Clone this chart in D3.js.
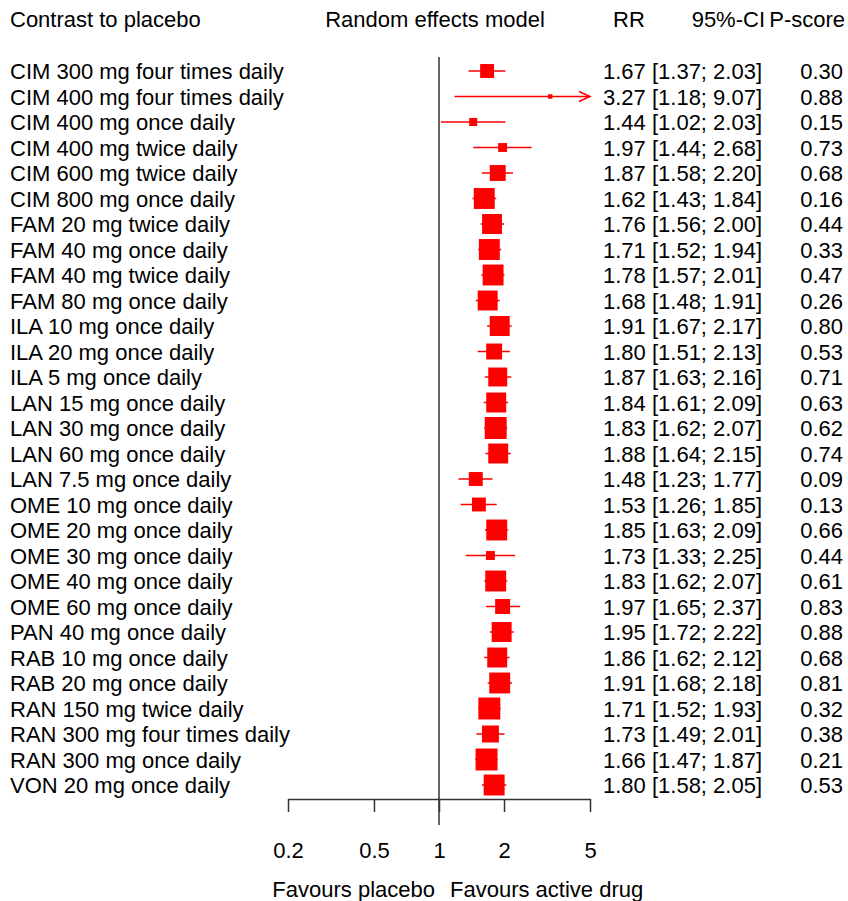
<!DOCTYPE html>
<html>
<head>
<meta charset="utf-8">
<script src="https://cdn.jsdelivr.net/npm/d3@7"></script>
<style>
  html, body { margin: 0; padding: 0; background: #fff; }
  svg { display: block; font-family: "Liberation Sans", Arial, sans-serif; }
</style>
</head>
<body>
<svg id="forest" width="848" height="901"></svg>
<script>
const treatments = [
  "CIM 300 mg four times daily", "CIM 400 mg four times daily", "CIM 400 mg once daily",
  "CIM 400 mg twice daily", "CIM 600 mg twice daily", "CIM 800 mg once daily",
  "FAM 20 mg twice daily", "FAM 40 mg once daily", "FAM 40 mg twice daily",
  "FAM 80 mg once daily", "ILA 10 mg once daily", "ILA 20 mg once daily",
  "ILA 5 mg once daily", "LAN 15 mg once daily", "LAN 30 mg once daily",
  "LAN 60 mg once daily", "LAN 7.5 mg once daily", "OME 10 mg once daily",
  "OME 20 mg once daily", "OME 30 mg once daily", "OME 40 mg once daily",
  "OME 60 mg once daily", "PAN 40 mg once daily", "RAB 10 mg once daily",
  "RAB 20 mg once daily", "RAN 150 mg twice daily", "RAN 300 mg four times daily",
  "RAN 300 mg once daily", "VON 20 mg once daily"
];
const rr    = [1.67, 3.27, 1.44, 1.97, 1.87, 1.62, 1.76, 1.71, 1.78, 1.68, 1.91, 1.80, 1.87, 1.84, 1.83, 1.88, 1.48, 1.53, 1.85, 1.73, 1.83, 1.97, 1.95, 1.86, 1.91, 1.71, 1.73, 1.66, 1.80];
const lower = [1.37, 1.18, 1.02, 1.44, 1.58, 1.43, 1.56, 1.52, 1.57, 1.48, 1.67, 1.51, 1.63, 1.61, 1.62, 1.64, 1.23, 1.26, 1.63, 1.33, 1.62, 1.65, 1.72, 1.62, 1.68, 1.52, 1.49, 1.47, 1.58];
const upper = [2.03, 9.07, 2.03, 2.68, 2.20, 1.84, 2.00, 1.94, 2.01, 1.91, 2.17, 2.13, 2.16, 2.09, 2.07, 2.15, 1.77, 1.85, 2.09, 2.25, 2.07, 2.37, 2.22, 2.12, 2.18, 1.93, 2.01, 1.87, 2.05];
const pscore = [0.30, 0.88, 0.15, 0.73, 0.68, 0.16, 0.44, 0.33, 0.47, 0.26, 0.80, 0.53, 0.71, 0.63, 0.62, 0.74, 0.09, 0.13, 0.66, 0.44, 0.61, 0.83, 0.88, 0.68, 0.81, 0.32, 0.38, 0.21, 0.53];
// relative weights
const weight = [39, 4, 13, 16, 51, 88, 80, 88, 88, 80, 80, 51, 72, 80, 97, 80, 39, 39, 88, 16, 88, 45, 80, 80, 88, 97, 58, 97, 88];
const tickValues = [0.2, 0.5, 1, 2, 5];

const rows = treatments.map((name, i) => ({
  name, rr: rr[i], lower: lower[i], upper: upper[i], p: pscore[i], w: weight[i]
}));

const svg = d3.select("#forest");
const fs = 22;
const red = "#ff0000";

const x = d3.scaleLog().domain([0.2, 5]).range([288, 590]);
const y = d3.scalePoint().domain(treatments).range([71, 785]);
const box = d3.scaleSqrt().domain([0, 100]).range([0, 22.3]);
const fmt = d3.format(".2f");

// headers
const head = svg.append("g").attr("font-size", fs).attr("fill", "#000");
head.append("text").attr("x", 10).attr("y", 27).text("Contrast to placebo");
head.append("text").attr("x", 435).attr("y", 27).attr("text-anchor", "middle").text("Random effects model");
head.append("text").attr("x", 613).attr("y", 27).text("RR");
head.append("text").attr("x", 765).attr("y", 27).attr("text-anchor", "end").text("95%-CI");
head.append("text").attr("x", 845).attr("y", 27).attr("text-anchor", "end").text("P-score");

// reference line at RR = 1
svg.append("line")
  .attr("x1", x(1)).attr("x2", x(1))
  .attr("y1", 57).attr("y2", 825)
  .attr("stroke", "#333").attr("stroke-width", 1.5);

// axis
const axis = d3.axisBottom(x)
  .tickValues(tickValues)
  .tickFormat(d3.format("~g"))
  .tickSize(13)
  .tickSizeOuter(0)
  .tickPadding(30);
const gAxis = svg.append("g").attr("transform", "translate(0,799)").call(axis);
gAxis.select(".domain").attr("stroke", "#333").attr("stroke-width", 1.5);
gAxis.selectAll(".tick line").attr("stroke", "#333").attr("stroke-width", 1.5);
gAxis.selectAll(".tick text").attr("font-size", fs).attr("font-family", "Liberation Sans, Arial, sans-serif").attr("fill", "#000");

// favours labels
svg.append("text").attr("x", x(1) - 4).attr("y", 897).attr("text-anchor", "end").attr("font-size", fs).text("Favours placebo");
svg.append("text").attr("x", x(1) + 11).attr("y", 897).attr("font-size", fs).text("Favours active drug");

// rows
const g = svg.append("g").selectAll("g").data(rows).enter().append("g")
  .attr("transform", (d) => `translate(0,${y(d.name)})`);

g.append("text").attr("x", 10).attr("y", 8).attr("font-size", fs).text((d) => d.name);
g.append("text").attr("x", 603).attr("y", 8).attr("font-size", fs)
  .text((d) => `${fmt(d.rr)} [${fmt(d.lower)}; ${fmt(d.upper)}]`);
g.append("text").attr("x", 843).attr("y", 8).attr("text-anchor", "end").attr("font-size", fs)
  .text((d) => fmt(d.p));

const [xmin, xmax] = x.domain();
g.append("line")
  .attr("x1", (d) => x(Math.max(d.lower, xmin)))
  .attr("x2", (d) => x(Math.min(d.upper, xmax)))
  .attr("y1", 0).attr("y2", 0)
  .attr("stroke", red).attr("stroke-width", 1.5);

g.filter((d) => d.upper > xmax).append("path")
  .attr("d", `M${x(xmax) - 11},-5 L${x(xmax)},0 L${x(xmax) - 11},5`)
  .attr("fill", "none").attr("stroke", red).attr("stroke-width", 1.5);

g.append("rect")
  .attr("x", (d) => x(d.rr) - box(d.w) / 2)
  .attr("y", (d) => -box(d.w) / 2)
  .attr("width", (d) => box(d.w))
  .attr("height", (d) => box(d.w))
  .attr("fill", red);
</script>
</body>
</html>
